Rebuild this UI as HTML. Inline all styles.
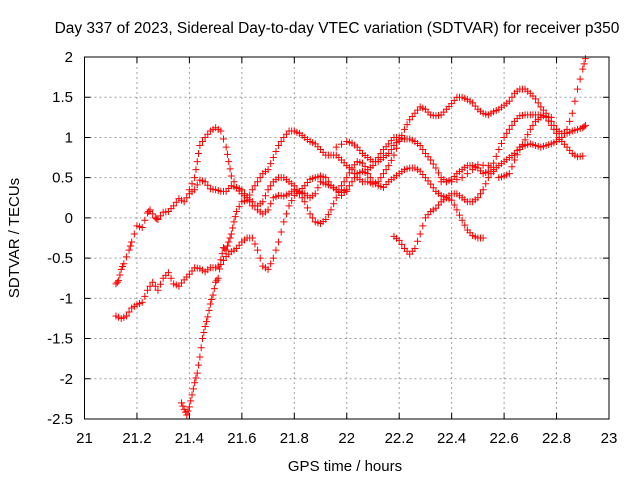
<!DOCTYPE html>
<html><head><meta charset="utf-8"><style>
body{margin:0;background:#fff}
svg{display:block;font-family:"Liberation Sans",sans-serif}
</style></head><body>
<svg id="chart" width="640" height="480" viewBox="0 0 640 480" xmlns="http://www.w3.org/2000/svg">
<text x="337" y="33" font-size="15.5" text-anchor="middle">Day 337 of 2023, Sidereal Day-to-day VTEC variation (SDTVAR) for receiver p350</text>
<text x="345" y="471" font-size="15" text-anchor="middle">GPS time / hours</text>
<text x="19" y="238" font-size="15" text-anchor="middle" transform="rotate(-90 19 238)">SDTVAR / TECUs</text>
<g id="grid"></g>
<g id="axes"></g>
<g id="marks"></g>
<rect x="84.5" y="57" width="524.5" height="362" fill="none" stroke="#000" stroke-width="1"/>
</svg>
<script>
const xTicks=[21,21.2,21.4,21.6,21.8,22,22.2,22.4,22.6,22.8,23];
const xTickLabels=["21","21.2","21.4","21.6","21.8","22","22.2","22.4","22.6","22.8","23"];
const yTicks=[-2.5,-2,-1.5,-1,-0.5,0,0.5,1,1.5,2];
const yTickLabels=["-2.5","-2","-1.5","-1","-0.5","0","0.5","1","1.5","2"];

const t1x=[21.12,21.14,21.16,21.18,21.2,21.22,21.24,21.26,21.28,21.3,21.32,21.34,21.36,21.38,21.4,21.42,21.44,21.46,21.48,21.5,21.52,21.54,21.56,21.58,21.6,21.62,21.64,21.66,21.68,21.7,21.72,21.74,21.76,21.78,21.8,21.82,21.84,21.86,21.88,21.9,21.92,21.94,21.96,21.98,22.0,22.02,22.04,22.06,22.08,22.1,22.12,22.14,22.16,22.18,22.2,22.22,22.24,22.26,22.28,22.3,22.32,22.34,22.36,22.38,22.4,22.42,22.44,22.46,22.48,22.5,22.52];
const t1y=[-1.22,-1.25,-1.22,-1.12,-1.08,-1.05,-0.9,-0.8,-0.9,-0.75,-0.68,-0.82,-0.85,-0.77,-0.7,-0.62,-0.63,-0.67,-0.62,-0.62,-0.58,-0.48,-0.42,-0.38,-0.3,-0.25,-0.25,-0.4,-0.6,-0.64,-0.5,-0.3,-0.05,0.15,0.28,0.33,0.4,0.48,0.5,0.52,0.5,0.4,0.35,0.28,0.35,0.45,0.55,0.58,0.55,0.45,0.4,0.38,0.45,0.5,0.55,0.6,0.62,0.62,0.58,0.5,0.42,0.33,0.28,0.25,0.22,0.1,-0.03,-0.15,-0.22,-0.25,-0.25];

const t2x=[21.37,21.38,21.39,21.4,21.41,21.42,21.43,21.44,21.45,21.46,21.47,21.48,21.49,21.5,21.51,21.52,21.53,21.54,21.55,21.56,21.57,21.58,21.6,21.62,21.64,21.66,21.68,21.7,21.72,21.74,21.76,21.78,21.8,21.82,21.84,21.86,21.88,21.9,21.92,21.94,21.96,21.98,22.0,22.02,22.04,22.06,22.08,22.1,22.12,22.14,22.16,22.18,22.2,22.22,22.24,22.26,22.28,22.3,22.32,22.34,22.36,22.38,22.4,22.42,22.44,22.46,22.48,22.5,22.52,22.54,22.56,22.58,22.6,22.62,22.64,22.66,22.68,22.7,22.72,22.74,22.76,22.78,22.8,22.82,22.84,22.86,22.88,22.9,22.91];
const t2y=[-2.3,-2.38,-2.45,-2.35,-2.2,-2.05,-1.93,-1.73,-1.5,-1.35,-1.23,-1.07,-0.96,-0.8,-0.75,-0.52,-0.37,-0.4,-0.3,-0.2,-0.05,0.08,0.2,0.22,0.35,0.45,0.55,0.6,0.75,0.9,1.0,1.08,1.08,1.05,1.0,0.95,0.92,0.85,0.78,0.78,0.78,0.72,0.65,0.6,0.5,0.45,0.45,0.42,0.45,0.55,0.65,0.78,0.95,1.1,1.22,1.3,1.38,1.35,1.28,1.27,1.28,1.35,1.42,1.5,1.5,1.47,1.43,1.35,1.3,1.28,1.32,1.35,1.4,1.45,1.55,1.6,1.6,1.55,1.48,1.38,1.3,1.2,1.1,1.05,1.05,1.08,1.1,1.12,1.15];

const t3x=[21.12,21.13,21.14,21.15,21.17,21.18,21.2,21.22,21.24,21.25,21.27,21.28,21.3,21.32,21.34,21.36,21.38,21.4,21.42,21.44,21.46,21.48,21.5,21.52,21.54,21.56,21.58,21.6,21.62,21.64,21.66,21.68,21.7,21.72,21.74,21.76,21.78,21.8,21.82,21.84,21.86,21.88,21.9,21.92,21.94,21.96,21.98,22.0];
const t3y=[-0.82,-0.78,-0.64,-0.57,-0.4,-0.3,-0.1,-0.12,0.06,0.1,0.0,-0.02,0.07,0.08,0.15,0.24,0.2,0.3,0.35,0.47,0.45,0.36,0.35,0.33,0.33,0.4,0.37,0.3,0.25,0.2,0.1,0.05,0.1,0.25,0.28,0.27,0.3,0.35,0.32,0.3,0.25,0.3,0.45,0.42,0.4,0.35,0.35,0.33];

const t4x=[21.4,21.42,21.43,21.44,21.46,21.48,21.5,21.52,21.54,21.55,21.56,21.58,21.6,21.62,21.64,21.66,21.68,21.7,21.72,21.74,21.76,21.78,21.8,21.82,21.84,21.86,21.88,21.9,21.92,21.94,21.96,21.98,22.0,22.02,22.04,22.06,22.08,22.1,22.12,22.14,22.16,22.18,22.2,22.22,22.24,22.26,22.28,22.3,22.32,22.34,22.36,22.38,22.4,22.42,22.44,22.46,22.48,22.5,22.52,22.54,22.56,22.58,22.6,22.62,22.64,22.66,22.68,22.7,22.72,22.74,22.76,22.78,22.8,22.82,22.84,22.86,22.88,22.9];
const t4y=[0.35,0.5,0.7,0.9,1.0,1.08,1.12,1.08,0.88,0.7,0.52,0.38,0.35,0.25,0.15,0.15,0.2,0.35,0.45,0.5,0.5,0.45,0.4,0.3,0.2,0.05,-0.05,-0.07,-0.02,0.1,0.25,0.4,0.5,0.62,0.7,0.68,0.6,0.65,0.75,0.85,0.92,1.0,1.0,0.98,0.98,0.95,0.9,0.8,0.72,0.62,0.5,0.45,0.48,0.55,0.6,0.65,0.65,0.62,0.55,0.58,0.68,0.85,1.0,1.1,1.2,1.27,1.28,1.28,1.28,1.28,1.26,1.15,1.05,0.95,0.88,0.8,0.76,0.77];

const t5x=[22.18,22.2,22.22,22.24,22.26,22.28,22.3,22.32,22.34,22.36,22.38,22.4,22.42,22.44,22.46,22.48,22.5,22.52,22.54,22.56,22.58,22.6,22.62,22.64,22.66,22.68,22.7,22.72,22.74,22.76,22.78,22.8,22.82,22.84,22.86,22.88,22.9,22.91];
const t5y=[-0.23,-0.28,-0.38,-0.45,-0.38,-0.2,0.0,0.08,0.12,0.2,0.25,0.3,0.3,0.25,0.2,0.2,0.25,0.35,0.5,0.6,0.65,0.7,0.75,0.8,0.88,0.9,0.92,0.9,0.88,0.9,0.92,0.95,1.0,1.1,1.3,1.6,1.85,1.98];

const t6x=[21.96,22.0,22.02,22.04,22.06,22.08,22.1,22.12,22.14,22.16,22.18,22.2,22.36,22.4,22.44,22.48,22.5,22.54,22.58,22.6,22.62,22.64,22.66,22.68,22.7,22.72,22.74,22.78];
const t6y=[0.88,0.95,0.93,0.88,0.8,0.75,0.7,0.7,0.75,0.8,0.9,0.97,0.45,0.45,0.5,0.6,0.66,0.65,0.5,0.52,0.55,0.72,0.85,0.97,1.1,1.2,1.25,1.25];

const X0=84.5,X1=609,Y0=419,Y1=57;
function xs(v){return X0+(v-21)/2*(X1-X0);}
function ys(v){return Y0-(v+2.5)/4.5*(Y0-Y1);}
const NS="http://www.w3.org/2000/svg";
const grid=document.getElementById('grid'),axes=document.getElementById('axes'),marks=document.getElementById('marks');
function mk(tag,attrs,parent){const e=document.createElementNS(NS,tag);for(const k in attrs)e.setAttribute(k,attrs[k]);parent.appendChild(e);return e;}
xTicks.forEach((t,i)=>{
  const x=xs(t);
  if(i>0&&i<xTicks.length-1){const g=mk('line',{x1:x,x2:x,y1:Y1,y2:Y0,stroke:'#a0a0a0','stroke-dasharray':'2,3'},grid);
  
  }
  const tk=mk('path',{d:`M${x},${Y0}v-6M${x},${Y1}v6`,stroke:'#000'},axes);
  
  
  const tx=mk('text',{x:x,y:443,'font-size':15,'text-anchor':'middle'},axes);tx.textContent=xTickLabels[i];
  
  
});
yTicks.forEach((t,i)=>{
  const y=ys(t);
  if(i>0&&i<yTicks.length-1){const g=mk('line',{x1:X0,x2:X1,y1:y,y2:y,stroke:'#a0a0a0','stroke-dasharray':'2,3'},grid);
  
  }
  const tk=mk('path',{d:`M${X0},${y}h6M${X1},${y}h-6`,stroke:'#000'},axes);
  
  
  const tx=mk('text',{x:73,y:y+5,'font-size':15,'text-anchor':'end'},axes);tx.textContent=yTickLabels[i];
  
  
});
const series=[[t1x,t1y],[t2x,t2y],[t3x,t3y],[t4x,t4y],[t5x,t5y],[t6x,t6y]];
series.forEach((s,si)=>{
  const g=mk('g',{},marks);
  
  
  let d='';
  for(let i=0;i<s[0].length;i++){
    const px=xs(s[0][i]),py=ys(s[1][i]);
    if(i>0&&Math.abs(s[0][i]-s[0][i-1])<0.05){
      const qx=xs(s[0][i-1]),qy=ys(s[1][i-1]);
      const fx=(qx+px)/2,fy=(qy+py)/2;d+=`M${fx-3.5},${fy}h7M${fx},${fy-3.5}v7`;
    }
    d+=`M${px-3.5},${py}h7M${px},${py-3.5}v7`;
  }
  const p=mk('path',{d:d,stroke:'#ff0000','stroke-width':1,fill:'none'},g);
  
  
});
</script>
</body></html>
